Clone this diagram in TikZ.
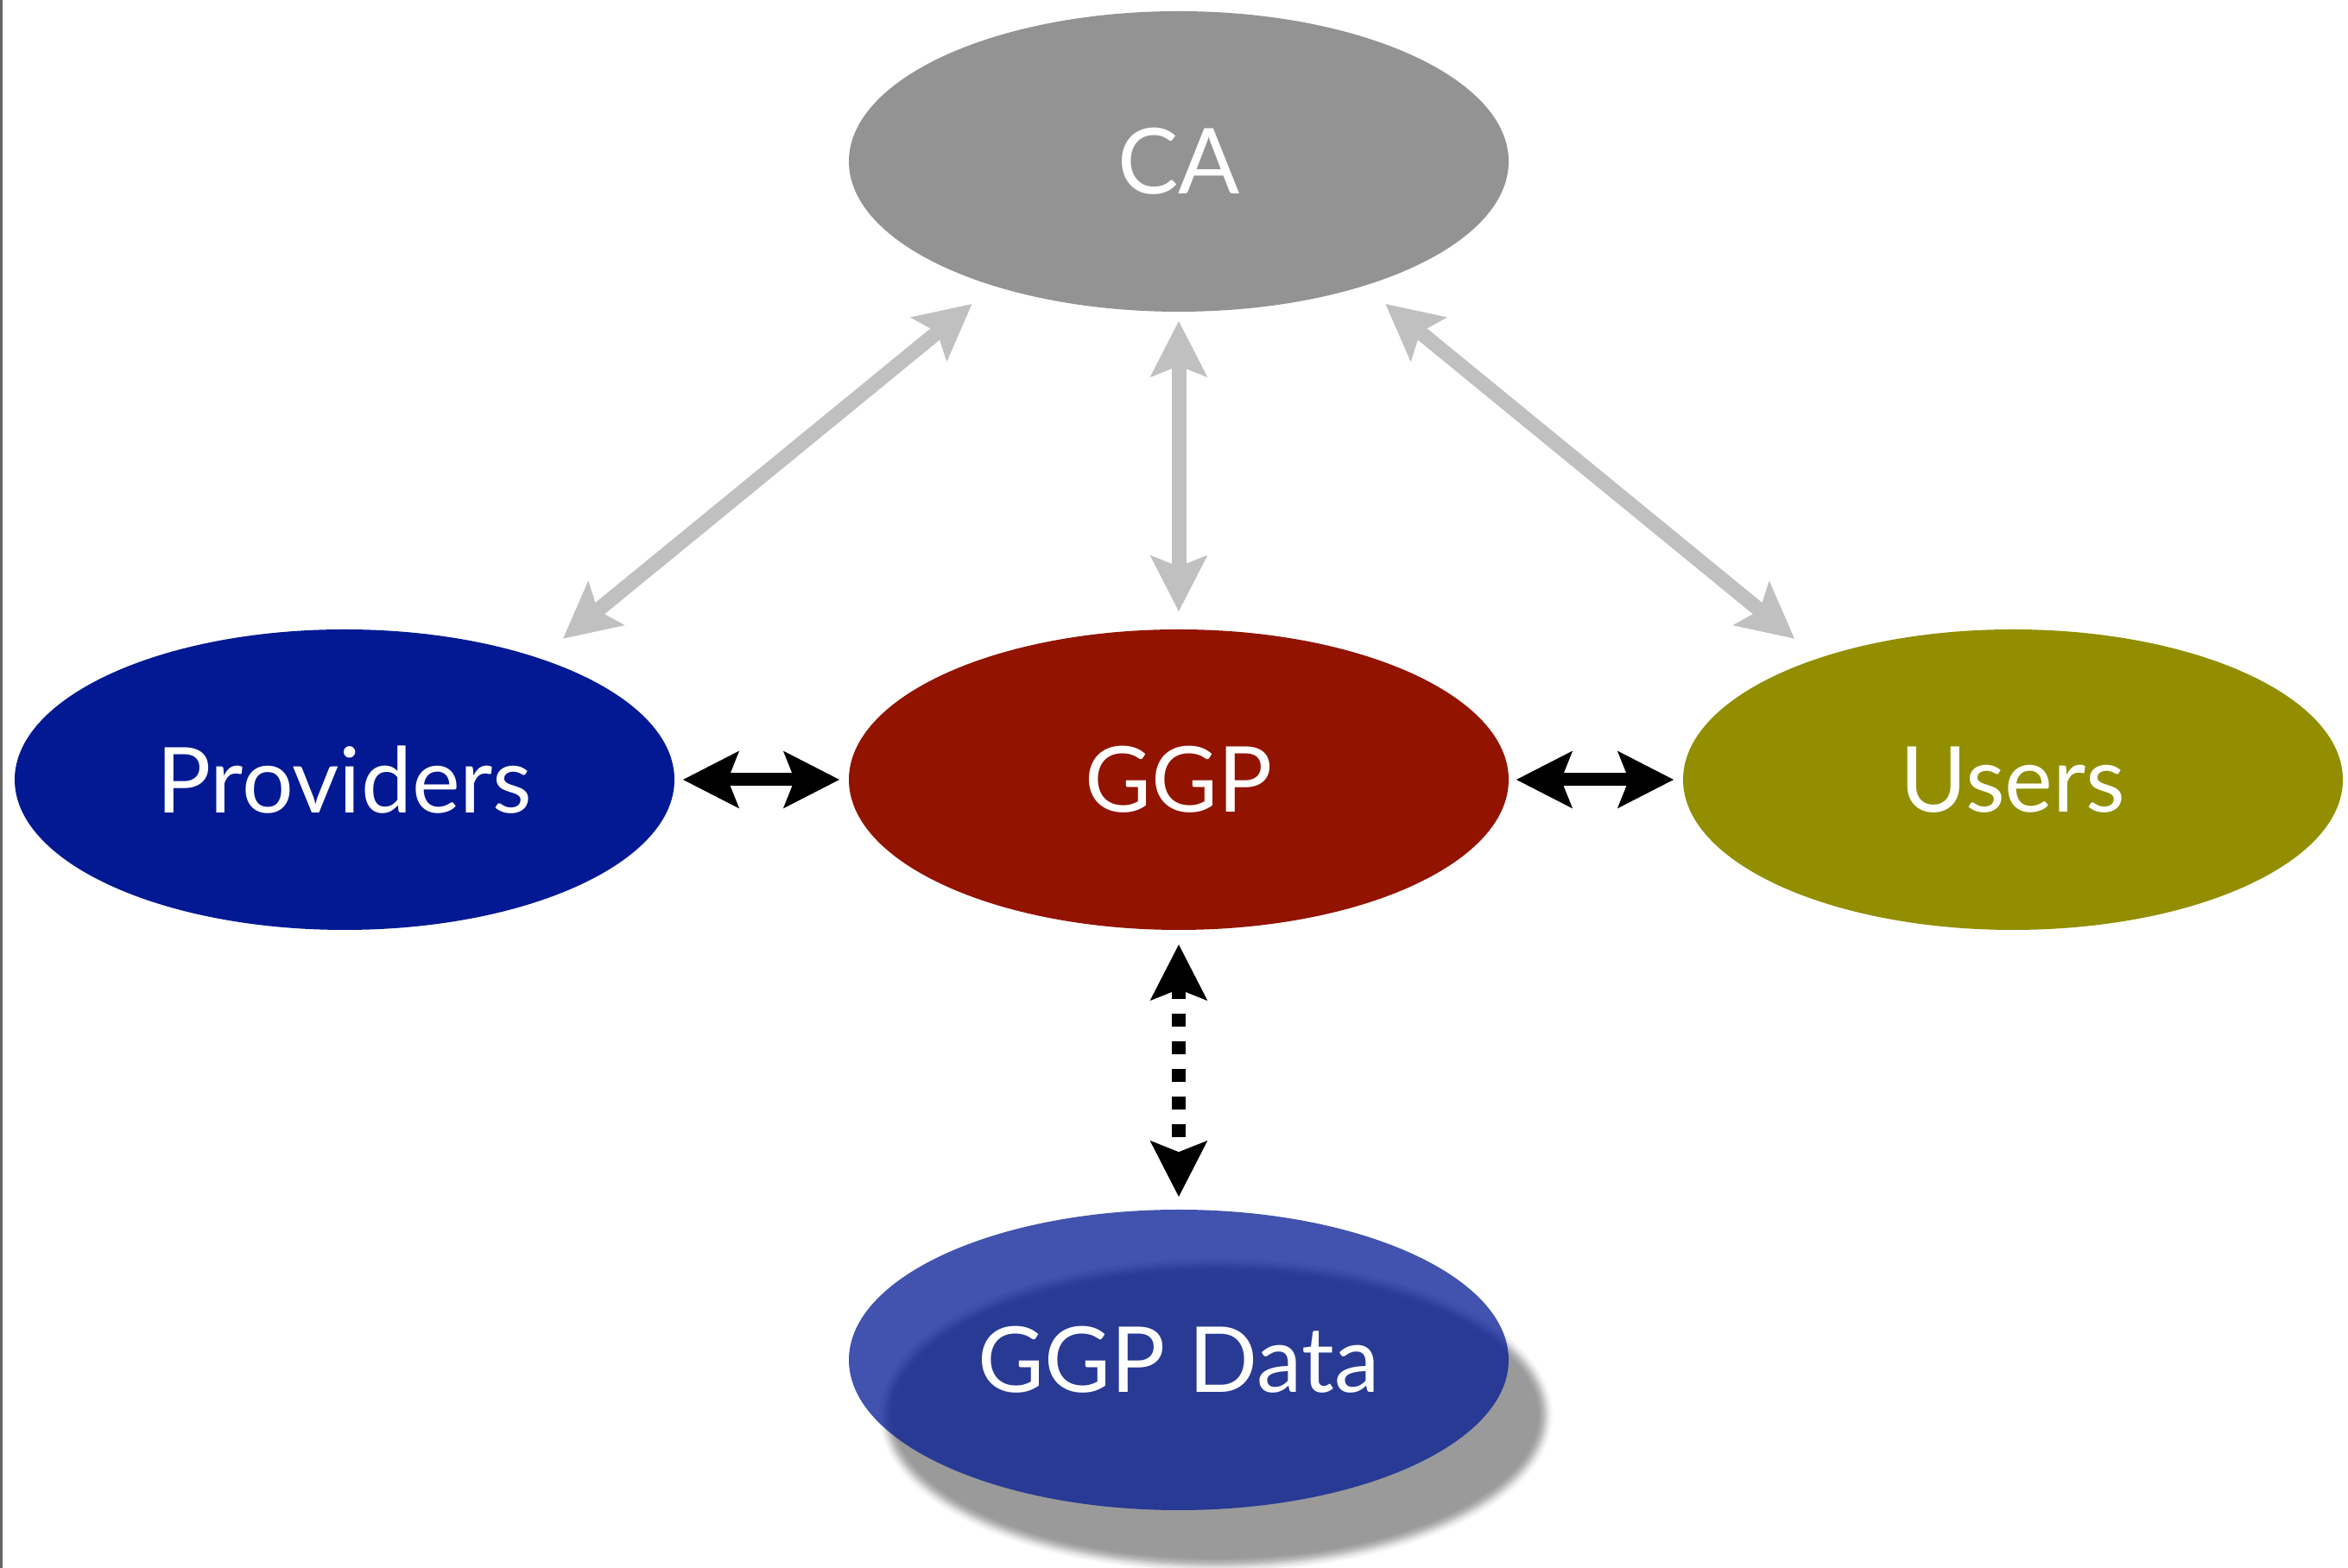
\documentclass[tikz,border=0pt]{standalone}
\usepackage{fontspec}
\setmainfont{Lato}
\usetikzlibrary{shapes.geometric,arrows.meta,shadows.blur}
\definecolor{cagray}{RGB}{147,147,147}
\definecolor{provblue}{RGB}{2,25,147}
\definecolor{ggpred}{RGB}{146,19,0}
\definecolor{userolive}{RGB}{146,142,0}
\definecolor{linkgray}{RGB}{192,192,192}
\begin{document}
\begin{tikzpicture}[
		>={Stealth[length=0.64cm, width=0.64cm, inset=0.12cm]},
		party/.style={ellipse, minimum width=7.64cm, minimum height=3.48cm, inner sep=0pt, text=white, font=\fontsize{30}{36}\selectfont},
		calink/.style={<->, draw=linkgray, line width=0.17cm},
		peer/.style={<->, draw=black, line width=0.15cm}
	]
		\useasboundingbox (0,0) rectangle (27.19,18.16);
		\draw[black!60, line width=0.03cm] (0.015,0) -- (0.015,18.16);
		\node[party, fill=cagray] (ca) at (13.65,16.29) {CA};
		\node[party, fill=provblue] (prov) at (3.99,9.13) {Providers};
		\node[party, fill=ggpred] (ggp) at (13.65,9.13) {GGP};
		\node[party, fill=userolive] (users) at (23.31,9.13) {Users};
		\node[party, fill=provblue, fill opacity=0.75, text opacity=1,
			blur shadow={shadow xshift=0.43cm, shadow yshift=-0.64cm, shadow blur radius=0.08cm, shadow opacity=53}] (data) at (13.65,2.41) {GGP Data};
		\draw[calink, shorten <=0.35cm, shorten >=0.32cm] (prov.32) -- (ca.214);
		\draw[calink, shorten <=0.1cm, shorten >=0.2cm] (ca.south) -- (ggp.north);
		\draw[calink, shorten <=0.35cm, shorten >=0.32cm] (users.148) -- (ca.326);
		\draw[peer, shorten <=0.09cm, shorten >=0.1cm] (prov.east) -- (ggp.west);
		\draw[peer, shorten <=0.08cm, shorten >=0.1cm] (ggp.east) -- (users.west);
		\draw[peer, line width=0.16cm, dash pattern=on 0.15cm off 0.17cm, shorten <=0.16cm, shorten >=0.14cm] (ggp.south) -- (data.north);
	\end{tikzpicture}
\end{document}
